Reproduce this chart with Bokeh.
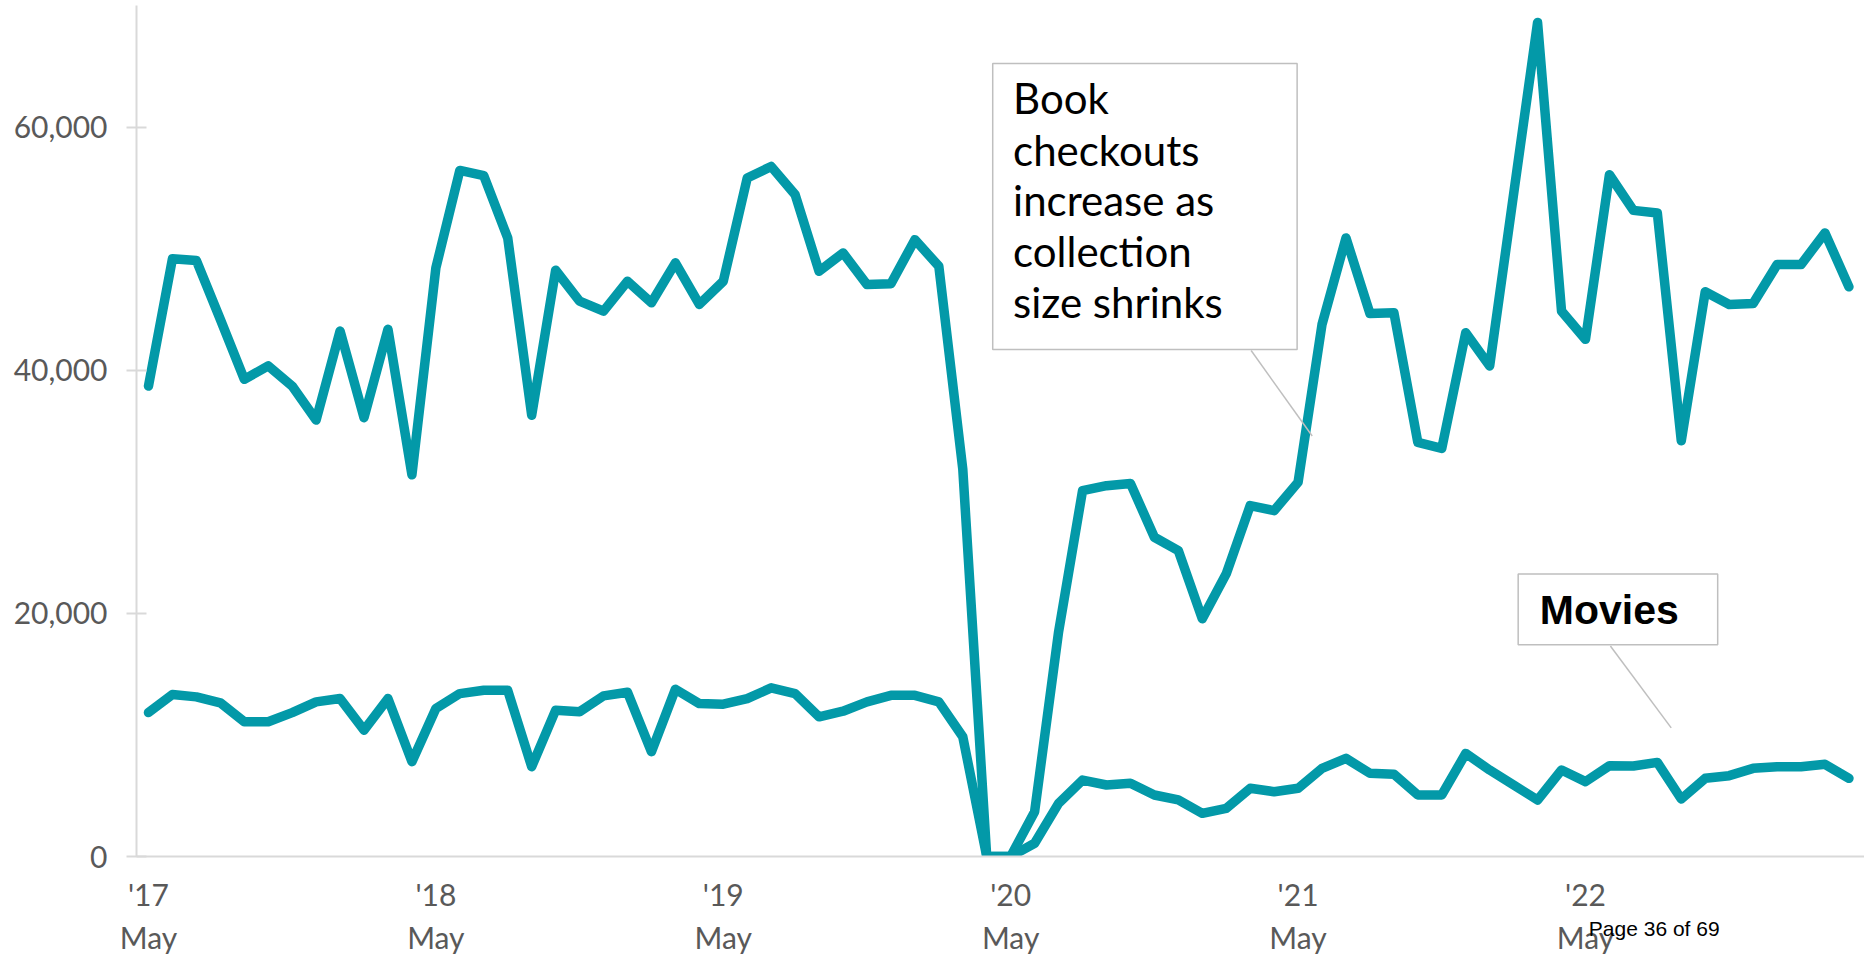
from bokeh.plotting import figure
from bokeh.models import Range1d, FixedTicker, NumeralTickFormatter, LinearAxis
from bokeh.core.properties import value
from bokeh.embed import file_html
from bokeh.resources import INLINE

# Monthly checkouts, May 2017 through April 2023
months = list(range(72))
book_checkouts = [
    38700, 49160, 49020, 44180, 39250, 40350, 38700, 35900, 43220, 36100, 43360, 31400,
    48420, 56430, 56000, 50880, 36300, 48220, 45680, 44860, 47320, 45550, 48830, 45410,
    47320, 55810, 56760, 54440, 48140, 49650, 47050, 47110, 50740, 48550, 31870, 0,
    0, 3690, 18470, 30090, 30500, 30690, 26260, 25160, 19560, 23250, 28860, 28450,
    30780, 43770, 50880, 44670, 44730, 34060, 33570, 43090, 40350, 54500, 68600, 44860,
    42540, 56080, 53150, 52930, 34190, 46450, 45410, 45480, 48690, 48690, 51290, 46860,
]
movie_checkouts = [
    11840, 13320, 13130, 12640, 11080, 11080, 11840, 12720, 12990, 10390, 12990, 7800,
    12170, 13400, 13670, 13670, 7390, 12030, 11900, 13210, 13510, 8620, 13760, 12580,
    12530, 12990, 13870, 13400, 11490, 11950, 12720, 13260, 13260, 12720, 9850, 0,
    0, 1090, 4370, 6290, 5880, 6020, 5060, 4650, 3550, 3960, 5610, 5330,
    5610, 7250, 8070, 6840, 6770, 5060, 5060, 8480, 7110, 5880, 4650, 7110,
    6160, 7470, 7440, 7740, 4730, 6430, 6650, 7250, 7390, 7390, 7580, 6430,
]

tick_months = [0, 12, 24, 36, 48, 60]
tick_labels = ["'17\nMay", "'18\nMay", "'19\nMay", "'20\nMay", "'21\nMay", "'22\nMay"]
y_ticks = [0, 20000, 40000, 60000]

book_note = ["Book", "checkouts", "increase as", "collection", "size shrinks"]
movie_note = "Movies"
page_note = "Page 36 of 69"
page_note_at = 62.87

TEAL = "#0399A8"
AXIS_GREY = "#d9d9d9"
BOX_GREY = "#bfbfbf"
LABEL_GREY = "#595959"

p = figure(
    width=1864, height=957,
    x_range=Range1d(-0.5, 71.65), y_range=Range1d(0, 70000),
    output_backend="svg", toolbar_location=None,
    min_border_left=136, min_border_right=0, min_border_top=5, min_border_bottom=99,
)
p.outline_line_color = None
p.grid.visible = False
p.background_fill_color = "white"
p.border_fill_color = "white"

# y axis
ya = p.yaxis[0]
ya.ticker = FixedTicker(ticks=y_ticks)
ya.formatter = NumeralTickFormatter(format="0,0")
ya.axis_line_color = AXIS_GREY
ya.axis_line_width = 2
ya.major_tick_line_color = AXIS_GREY
ya.major_tick_line_width = 2
ya.major_tick_in = 10
ya.major_tick_out = 10
ya.minor_tick_line_color = None
ya.major_label_standoff = 19
ya.major_label_text_font = "Lato"
ya.major_label_text_font_size = "30px"
ya.major_label_text_color = LABEL_GREY

# x axis
xa = p.xaxis[0]
xa.ticker = FixedTicker(ticks=tick_months)
xa.major_label_overrides = dict(zip(tick_months, tick_labels))
xa.axis_line_color = AXIS_GREY
xa.axis_line_width = 2
xa.major_tick_line_color = None
xa.major_tick_in = 0
xa.major_tick_out = 0
xa.minor_tick_line_color = None
xa.major_label_standoff = 19
xa.major_label_text_font = "Lato"
xa.major_label_text_font_size = "30px"
xa.major_label_text_color = LABEL_GREY

# page footer, carried by a bare axis stacked under the month axis and pulled up
footer = LinearAxis(
    ticker=FixedTicker(ticks=[page_note_at]),
    major_label_overrides={page_note_at: page_note},
    axis_line_color=None, major_tick_line_color=None, minor_tick_line_color=None,
    major_tick_in=0, major_tick_out=0, major_label_standoff=-41,
    major_label_text_font="Liberation Sans", major_label_text_font_size="21px",
    major_label_text_color="black",
)
p.add_layout(footer, "below")

# series
p.line(months, book_checkouts, line_color=TEAL, line_width=9.5, line_join="round", line_cap="round")
p.line(months, movie_checkouts, line_color=TEAL, line_width=9.5, line_join="round", line_cap="round")

# callout: book checkouts
p.segment(x0=[46.04], y0=[41620], x1=[48.59], y1=[34590], line_color=BOX_GREY, line_width=1.5)
p.quad(left=[35.25], right=[47.96], top=[65225], bottom=[41700],
       fill_color="white", line_color=BOX_GREY, line_width=1.5)
note_y = [62370, 58130, 53970, 49785, 45600]
p.text(x=[36.1] * len(book_note), y=note_y, text=book_note,
       text_font=value("Lato"), text_font_size="42px", text_color="black",
       text_align="left", text_baseline="alphabetic")

# callout: movies
p.segment(x0=[61.04], y0=[17310], x1=[63.58], y1=[10580], line_color=BOX_GREY, line_width=1.5)
p.quad(left=[57.19], right=[65.52], top=[23240], bottom=[17420],
       fill_color="white", line_color=BOX_GREY, line_width=1.5)
p.text(x=[58.09], y=[20250], text=[movie_note],
       text_font=value("Liberation Sans"), text_font_size="41px", text_font_style="bold",
       text_color="black", text_align="left", text_baseline="alphabetic")

open("out.html", "w").write(file_html(p, INLINE))
